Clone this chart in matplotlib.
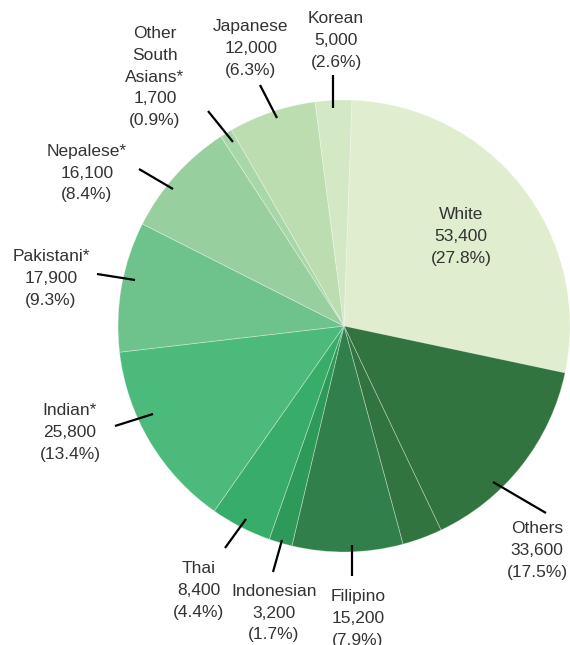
import matplotlib
matplotlib.use("Agg")
import matplotlib.pyplot as plt

# ---- data ----
categories = ["White", "Others", "Filipino", "Indonesian", "Thai", "Indian*",
              "Pakistani*", "Nepalese*", "Other\nSouth\nAsians*", "Japanese", "Korean"]
populations = [53400, 33600, 15200, 3200, 8400, 25800, 17900, 16100, 1700, 12000, 5000]
percent_labels = ["27.8%", "17.5%", "7.9%", "1.7%", "4.4%", "13.4%", "9.3%", "8.4%",
                  "0.9%", "6.3%", "2.6%"]
# the "Others" wedge is drawn as two sub-wedges in the reference
others_parts = [28100, 5500]

colors = ["#e0edcf", "#32743f", "#31804c", "#2e9a5a", "#38ad6a", "#4bba7a",
          "#6ec28b", "#98cf9f", "#a8d8a8", "#bbddb0", "#d3e8c4"]

W, H = 570, 645
fig = plt.figure(figsize=(W / 100, H / 100), dpi=100)
ax = fig.add_axes([0, 0, 1, 1])
ax.set_xlim(0, W)
ax.set_ylim(0, H)
ax.set_aspect("equal")
ax.axis("off")

def Y(y):
    return H - y

# build wedge values (Others split in two, same colour)
values, wcolors = [], []
for i, (cat, v) in enumerate(zip(categories, populations)):
    if cat == "Others":
        for p in others_parts:
            values.append(p)
            wcolors.append(colors[i])
    else:
        values.append(v)
        wcolors.append(colors[i])

ax.pie(values, colors=wcolors, startangle=88, counterclock=False,
       center=(344, Y(326)), radius=226, frame=True,
       wedgeprops=dict(edgecolor=(1, 1, 1, 0.35), linewidth=0.6))
ax.set_xlim(0, W)
ax.set_ylim(0, H)
ax.axis("off")

# ---- labels (layout positions in pixels: centre x, first-line centre y) ----
label_pos = {
    "White": (461, 213),
    "Others": (537, 527),
    "Filipino": (358, 595),
    "Indonesian": (274, 590),
    "Thai": (199, 567),
    "Indian*": (70, 409),
    "Pakistani*": (51, 255),
    "Nepalese*": (87, 150),
    "Other\nSouth\nAsians*": (155, 32),
    "Japanese": (251, 25),
    "Korean": (336, 17),
}
leaders = {
    "Others": ((493, 482), (546, 513)),
    "Filipino": ((352, 545), (352, 576)),
    "Indonesian": ((282, 540), (273, 572)),
    "Thai": ((246, 519), (225, 548)),
    "Indian*": ((153, 414), (115, 426)),
    "Pakistani*": ((135, 280), (97, 274)),
    "Nepalese*": ((173, 189), (139, 169)),
    "Other\nSouth\nAsians*": ((233, 142), (208, 111)),
    "Japanese": ((277, 118), (260, 85)),
    "Korean": ((333, 108), (333, 75)),
}

line_h = 21.6
txt_color = "#333333"
for cat, v, pct in zip(categories, populations, percent_labels):
    lines = cat.split("\n") + [f"{v:,}", f"({pct})"]
    x0, y0 = label_pos[cat]
    for k, ln in enumerate(lines):
        ax.text(x0, Y(y0 + k * line_h + 6.3), ln, ha="center", va="baseline",
                fontsize=12.5, color=txt_color, family=["Liberation Sans", "DejaVu Sans"])
    if cat in leaders:
        (xa, ya), (xb, yb) = leaders[cat]
        ax.plot([xa, xb], [Y(ya), Y(yb)], color="black", lw=1.6, solid_capstyle="butt")

fig.savefig("out.png", dpi=100)
